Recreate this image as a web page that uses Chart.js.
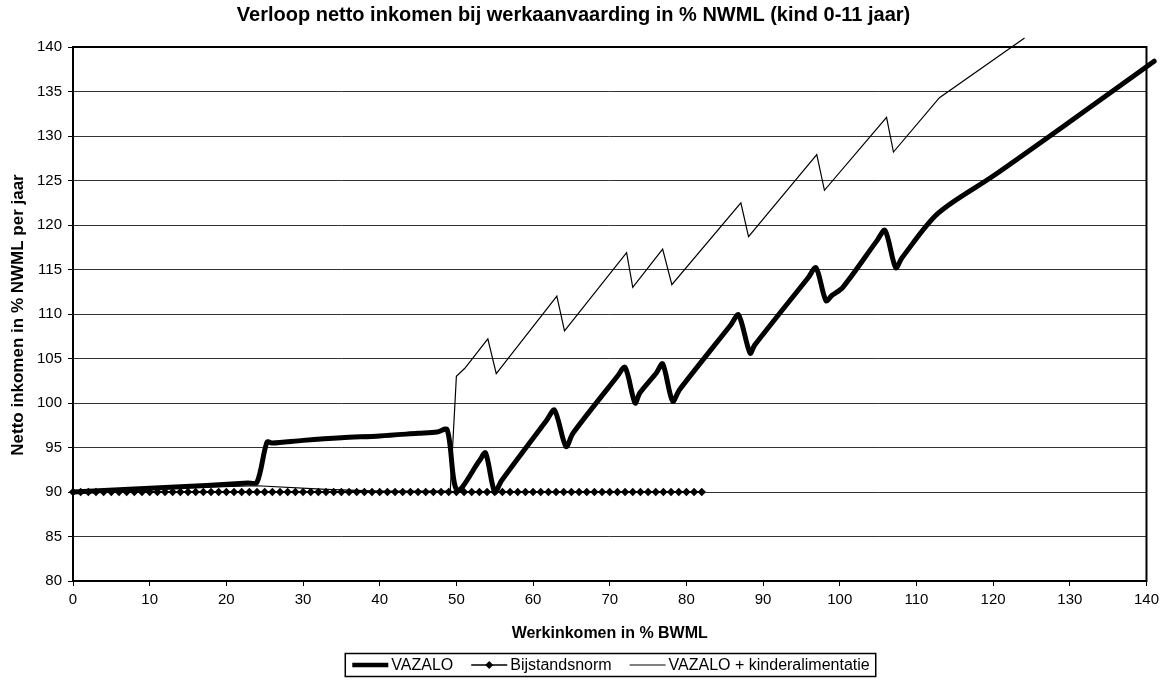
<!DOCTYPE html>
<html><head><meta charset="utf-8">
<script src="https://cdn.jsdelivr.net/npm/chart.js@4/dist/chart.umd.min.js"></script>
<style>html,body{margin:0;padding:0;background:#fff}</style>
</head><body>
<canvas id="c" width="1164" height="687"></canvas>
<script>
const chartTitle = 'Verloop netto inkomen bij werkaanvaarding in % NWML (kind 0-11 jaar)';
const xTitle = 'Werkinkomen in % BWML';
const yTitle = 'Netto inkomen in % NWML per jaar';
const seriesNames = ['VAZALO', 'Bijstandsnorm', 'VAZALO + kinderalimentatie'];

const vazaloX = [0, 12, 22.8, 24, 25.3, 26, 30, 35, 40, 45, 47.5, 48.8, 50.1, 53.0, 53.8, 55.0, 55.9, 61.8, 62.8, 64.3, 65.2, 71.0, 72.0, 73.3, 73.9, 76.1, 76.9, 78.2, 79.1, 85.8, 86.8, 88.3, 88.9, 95.9, 96.9, 98.2, 99.0, 100.4, 104.9, 105.9, 107.3, 108.1, 112.8, 120, 130, 141];
const vazaloY = [90, 90.5, 91.0, 91.1, 95.6, 95.5, 95.8, 96.1, 96.3, 96.6, 96.75, 97.0, 90.2, 93.5, 94.4, 90.0, 91.3, 98.1, 99.2, 95.1, 96.6, 103.0, 104.0, 100.0, 101.1, 103.4, 104.4, 100.2, 101.5, 108.8, 109.9, 105.6, 106.5, 114.1, 115.2, 111.5, 112.1, 113.0, 118.3, 119.4, 115.2, 116.3, 121.3, 125.5, 131.6, 138.4];

const bijX = [0,1,2,3,4,5,6,7,8,9,10,11,12,13,14,15,16,17,18,19,20,21,22,23,24,25,26,27,28,29,30,31,32,33,34,35,36,37,38,39,40,41,42,43,44,45,46,47,48,49,50,51,52,53,54,55,56,57,58,59,60,61,62,63,64,65,66,67,68,69,70,71,72,73,74,75,76,77,78,79,80,81,82];
const bijY = [90,90,90,90,90,90,90,90,90,90,90,90,90,90,90,90,90,90,90,90,90,90,90,90,90,90,90,90,90,90,90,90,90,90,90,90,90,90,90,90,90,90,90,90,90,90,90,90,90,90,90,90,90,90,90,90,90,90,90,90,90,90,90,90,90,90,90,90,90,90,90,90,90,90,90,90,90,90,90,90,90,90,90];

const kindX = [0, 12, 24, 33, 40, 49.2, 50.0, 51.1, 54.1, 55.2, 63.1, 64.1, 72.2, 73.0, 76.9, 78.1, 87.1, 88.1, 97.0, 98.0, 106.1, 107.0, 113.0, 124.1];
const kindY = [90, 90.4, 90.7, 90.3, 90.1, 90.1, 103.0, 103.9, 107.2, 103.3, 112.0, 108.1, 116.9, 113.0, 117.3, 113.3, 122.5, 118.7, 127.9, 123.9, 132.1, 128.2, 134.3, 141.0];

const xTicks = [0,10,20,30,40,50,60,70,80,90,100,110,120,130,140];
const yTicks = [80,85,90,95,100,105,110,115,120,125,130,135,140];

const FONT = "'Liberation Sans', Arial, sans-serif";
const pts = (xs, ys) => xs.map((x, i) => ({x: x, y: ys[i]}));

const framePlugin = {
  id: 'frame',
  beforeDatasetsDraw(chart) {
    const {ctx, chartArea: a} = chart;
    ctx.save();
    ctx.strokeStyle = '#000';
    ctx.lineWidth = 2;
    ctx.strokeRect(a.left, a.top, a.right - a.left, a.bottom - a.top);
    ctx.restore();
  },
  afterDraw(chart) {
    const {ctx} = chart;
    ctx.save();
    ctx.fillStyle = '#000';
    ctx.font = 'bold 17px ' + FONT;
    ctx.textAlign = 'center';
    ctx.textBaseline = 'middle';
    ctx.translate(18, 315);
    ctx.rotate(-Math.PI / 2);
    ctx.fillText(yTitle, 0, 0);
    ctx.restore();

    ctx.save();
    ctx.font = '16px ' + FONT;
    ctx.textBaseline = 'middle';
    ctx.fillStyle = '#000';
    const cy = 665;
    const sample = 36, gapS = 3, gapItem = 18;
    const widths = seriesNames.map(n => ctx.measureText(n).width);
    let total = 0;
    widths.forEach((w, i) => { total += sample + gapS + w + (i < widths.length - 1 ? gapItem : 0); });
    const cx = 611;
    let x = cx - total / 2;
    const boxL = x - 7, boxR = x + total + 6;
    ctx.strokeStyle = '#000';
    ctx.lineWidth = 1.5;
    ctx.strokeRect(boxL, cy - 11.5, boxR - boxL, 23);
    seriesNames.forEach((n, i) => {
      ctx.beginPath();
      ctx.strokeStyle = '#000';
      ctx.lineWidth = i === 0 ? 4.5 : (i === 1 ? 1.5 : 1);
      ctx.moveTo(x, cy); ctx.lineTo(x + sample, cy); ctx.stroke();
      if (i === 1) {
        ctx.beginPath();
        const mx = x + sample / 2;
        ctx.moveTo(mx, cy - 4); ctx.lineTo(mx + 4, cy); ctx.lineTo(mx, cy + 4); ctx.lineTo(mx - 4, cy);
        ctx.closePath(); ctx.fill();
      }
      x += sample + gapS;
      ctx.textAlign = 'left';
      ctx.fillText(n, x, cy + 1);
      x += widths[i] + gapItem;
    });
    ctx.restore();
  }
};

new Chart(document.getElementById('c'), {
  type: 'line',
  data: {
    datasets: [
      {
        label: seriesNames[0],
        data: pts(vazaloX, vazaloY),
        borderColor: '#000', borderWidth: 5, pointRadius: 0,
        tension: 0.3, borderCapStyle: 'round', borderJoinStyle: 'round',
        clip: {left: 0, top: 12, right: 12, bottom: 0}
      },
      {
        label: seriesNames[1],
        data: pts(bijX, bijY),
        borderColor: '#000', borderWidth: 2,
        pointStyle: 'rectRot', pointRadius: 4.2, pointBackgroundColor: '#000', pointBorderColor: '#000', pointBorderWidth: 0,
        tension: 0, clip: 8
      },
      {
        label: seriesNames[2],
        data: pts(kindX, kindY),
        borderColor: '#000', borderWidth: 1.2, pointRadius: 0, tension: 0,
        clip: {left: 0, top: 12, right: 12, bottom: 0}
      }
    ]
  },
  options: {
    responsive: false,
    animation: false,
    devicePixelRatio: 1,
    layout: {padding: {left: 0, right: 17, top: 0, bottom: 39}},
    plugins: {
      legend: {display: false},
      tooltip: {enabled: false},
      title: {
        display: true, text: chartTitle, color: '#000',
        font: {family: FONT, size: 20, weight: 'bold'},
        padding: {top: 3, bottom: 20}
      }
    },
    scales: {
      x: {
        type: 'linear', min: 0, max: 140,
        afterBuildTicks: s => { s.ticks = xTicks.map(v => ({value: v})); },
        afterFit: s => { s.height = 67; },
        grid: {display: true, drawOnChartArea: false, drawTicks: true, tickLength: 5, color: '#000', lineWidth: 1},
        border: {display: false},
        ticks: {color: '#000', font: {family: FONT, size: 15}, padding: 5, maxRotation: 0},
        title: {display: true, text: xTitle, color: '#000', font: {family: FONT, size: 16, weight: 'bold'}, padding: {top: 4, bottom: 5}}
      },
      y: {
        type: 'linear', min: 80, max: 140,
        afterBuildTicks: s => { s.ticks = yTicks.map(v => ({value: v})); },
        afterFit: s => { s.width = 73; },
        grid: {display: true, drawOnChartArea: true, drawTicks: true, tickLength: 5, color: '#333', tickColor: '#000', lineWidth: 1},
        border: {display: false},
        ticks: {color: '#000', font: {family: FONT, size: 15}, padding: 6}
      }
    }
  },
  plugins: [framePlugin]
});
</script>
</body></html>
